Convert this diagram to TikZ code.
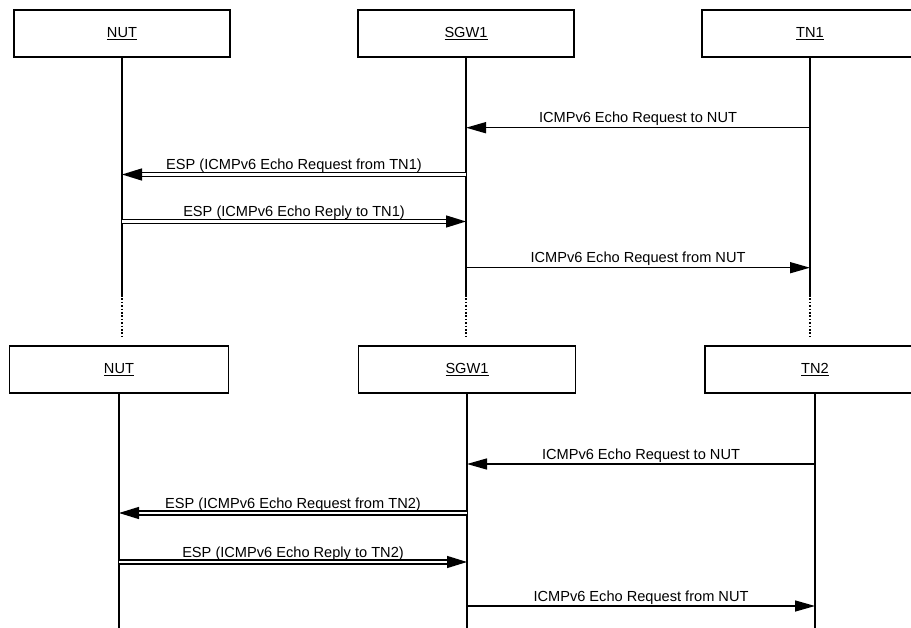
\documentclass[tikz,border=0pt]{standalone}
\usepackage{fontspec}
\setmainfont{Liberation Sans}
\usetikzlibrary{arrows.meta}
\begin{document}
\begin{tikzpicture}[x=1pt,y=-1pt,
  actor/.style={draw,line width=1.6pt,minimum width=216pt,minimum height=47pt,inner sep=0pt,
    font=\fontsize{14.6}{17}\selectfont},
  life/.style={line width=1.7pt},
  lifedots/.style={line width=1.8pt,dash pattern=on 1.6pt off 1.8pt},
  msg/.style={line width=1.5pt,-{Triangle[length=20pt,width=11pt]}},
  dmsg/.style={line width=1.4pt,double,double distance=2.8pt,-{Triangle[length=20pt,width=12pt]}},
  lbl/.style={anchor=base,yshift=5pt,inner sep=0pt,font=\fontsize{14.6}{17}\selectfont}]
\useasboundingbox (0,0) rectangle (911,628);
% top actors
\node[actor] (nut1) at (122,33.5) {\underline{NUT}};
\node[actor] (sgw1) at (466,33.5) {\underline{SGW1}};
\node[actor] (tn1)  at (810,33.5) {\underline{TN1}};
% bottom actors
\node[actor,minimum width=219pt] (nut2) at (119,369.5) {\underline{NUT}};
\node[actor,minimum width=217pt] (sgw2) at (467,369.5) {\underline{SGW1}};
\node[actor,minimum width=220pt] (tn2)  at (815,369.5) {\underline{TN2}};
% lifeline coordinates
\coordinate (nut1s) at (122,295);  \coordinate (nut1d) at (122,337);
\coordinate (sgw1s) at (466,295);  \coordinate (sgw1d) at (466,337);
\coordinate (tn1s)  at (810,295);  \coordinate (tn1d)  at (810,337);
\coordinate (nut2e) at (119,628);
\coordinate (sgw2e) at (467,628);
\coordinate (tn2e)  at (815,628);
\draw[life] (nut1.south) -- (nut1s);
\draw[life] (sgw1.south) -- (sgw1s);
\draw[life] (tn1.south) -- (tn1s);
\draw[lifedots] (nut1s) -- (nut1d);
\draw[lifedots] (sgw1s) -- (sgw1d);
\draw[lifedots] (tn1s) -- (tn1d);
\draw[life] (nut2.south) -- (nut2e);
\draw[life] (sgw2.south) -- (sgw2e);
\draw[life] (tn2.south) -- (tn2e);
% message end points, top part
\coordinate (a1) at (810,127.7);   \coordinate (a2) at (466,127.7);
\coordinate (b1) at (466,174.5);   \coordinate (b2) at (122,174.5);
\coordinate (c1) at (122,221.5);   \coordinate (c2) at (466,221.5);
\coordinate (d1) at (466,267.7);   \coordinate (d2) at (810,267.7);
\draw[msg] (a1) -- node[lbl]{ICMPv6 Echo Request to NUT} (a2);
\draw[dmsg] (b1) -- node[lbl]{ESP (ICMPv6 Echo Request from TN1)} (b2);
\draw[dmsg] (c1) -- node[lbl]{ESP (ICMPv6 Echo Reply to TN1)} (c2);
\draw[msg] (d1) -- node[lbl]{ICMPv6 Echo Request from NUT} (d2);
% message end points, bottom part
\coordinate (e1) at (815,464);   \coordinate (e2) at (467,464);
\coordinate (f1) at (467,513);   \coordinate (f2) at (119,513);
\coordinate (g1) at (119,562);   \coordinate (g2) at (467,562);
\coordinate (h1) at (467,606);   \coordinate (h2) at (815,606);
\draw[msg] (e1) -- node[lbl]{ICMPv6 Echo Request to NUT} (e2);
\draw[dmsg] (f1) -- node[lbl]{ESP (ICMPv6 Echo Request from TN2)} (f2);
\draw[dmsg] (g1) -- node[lbl]{ESP (ICMPv6 Echo Reply to TN2)} (g2);
\draw[msg] (h1) -- node[lbl]{ICMPv6 Echo Request from NUT} (h2);
\end{tikzpicture}
\end{document}
